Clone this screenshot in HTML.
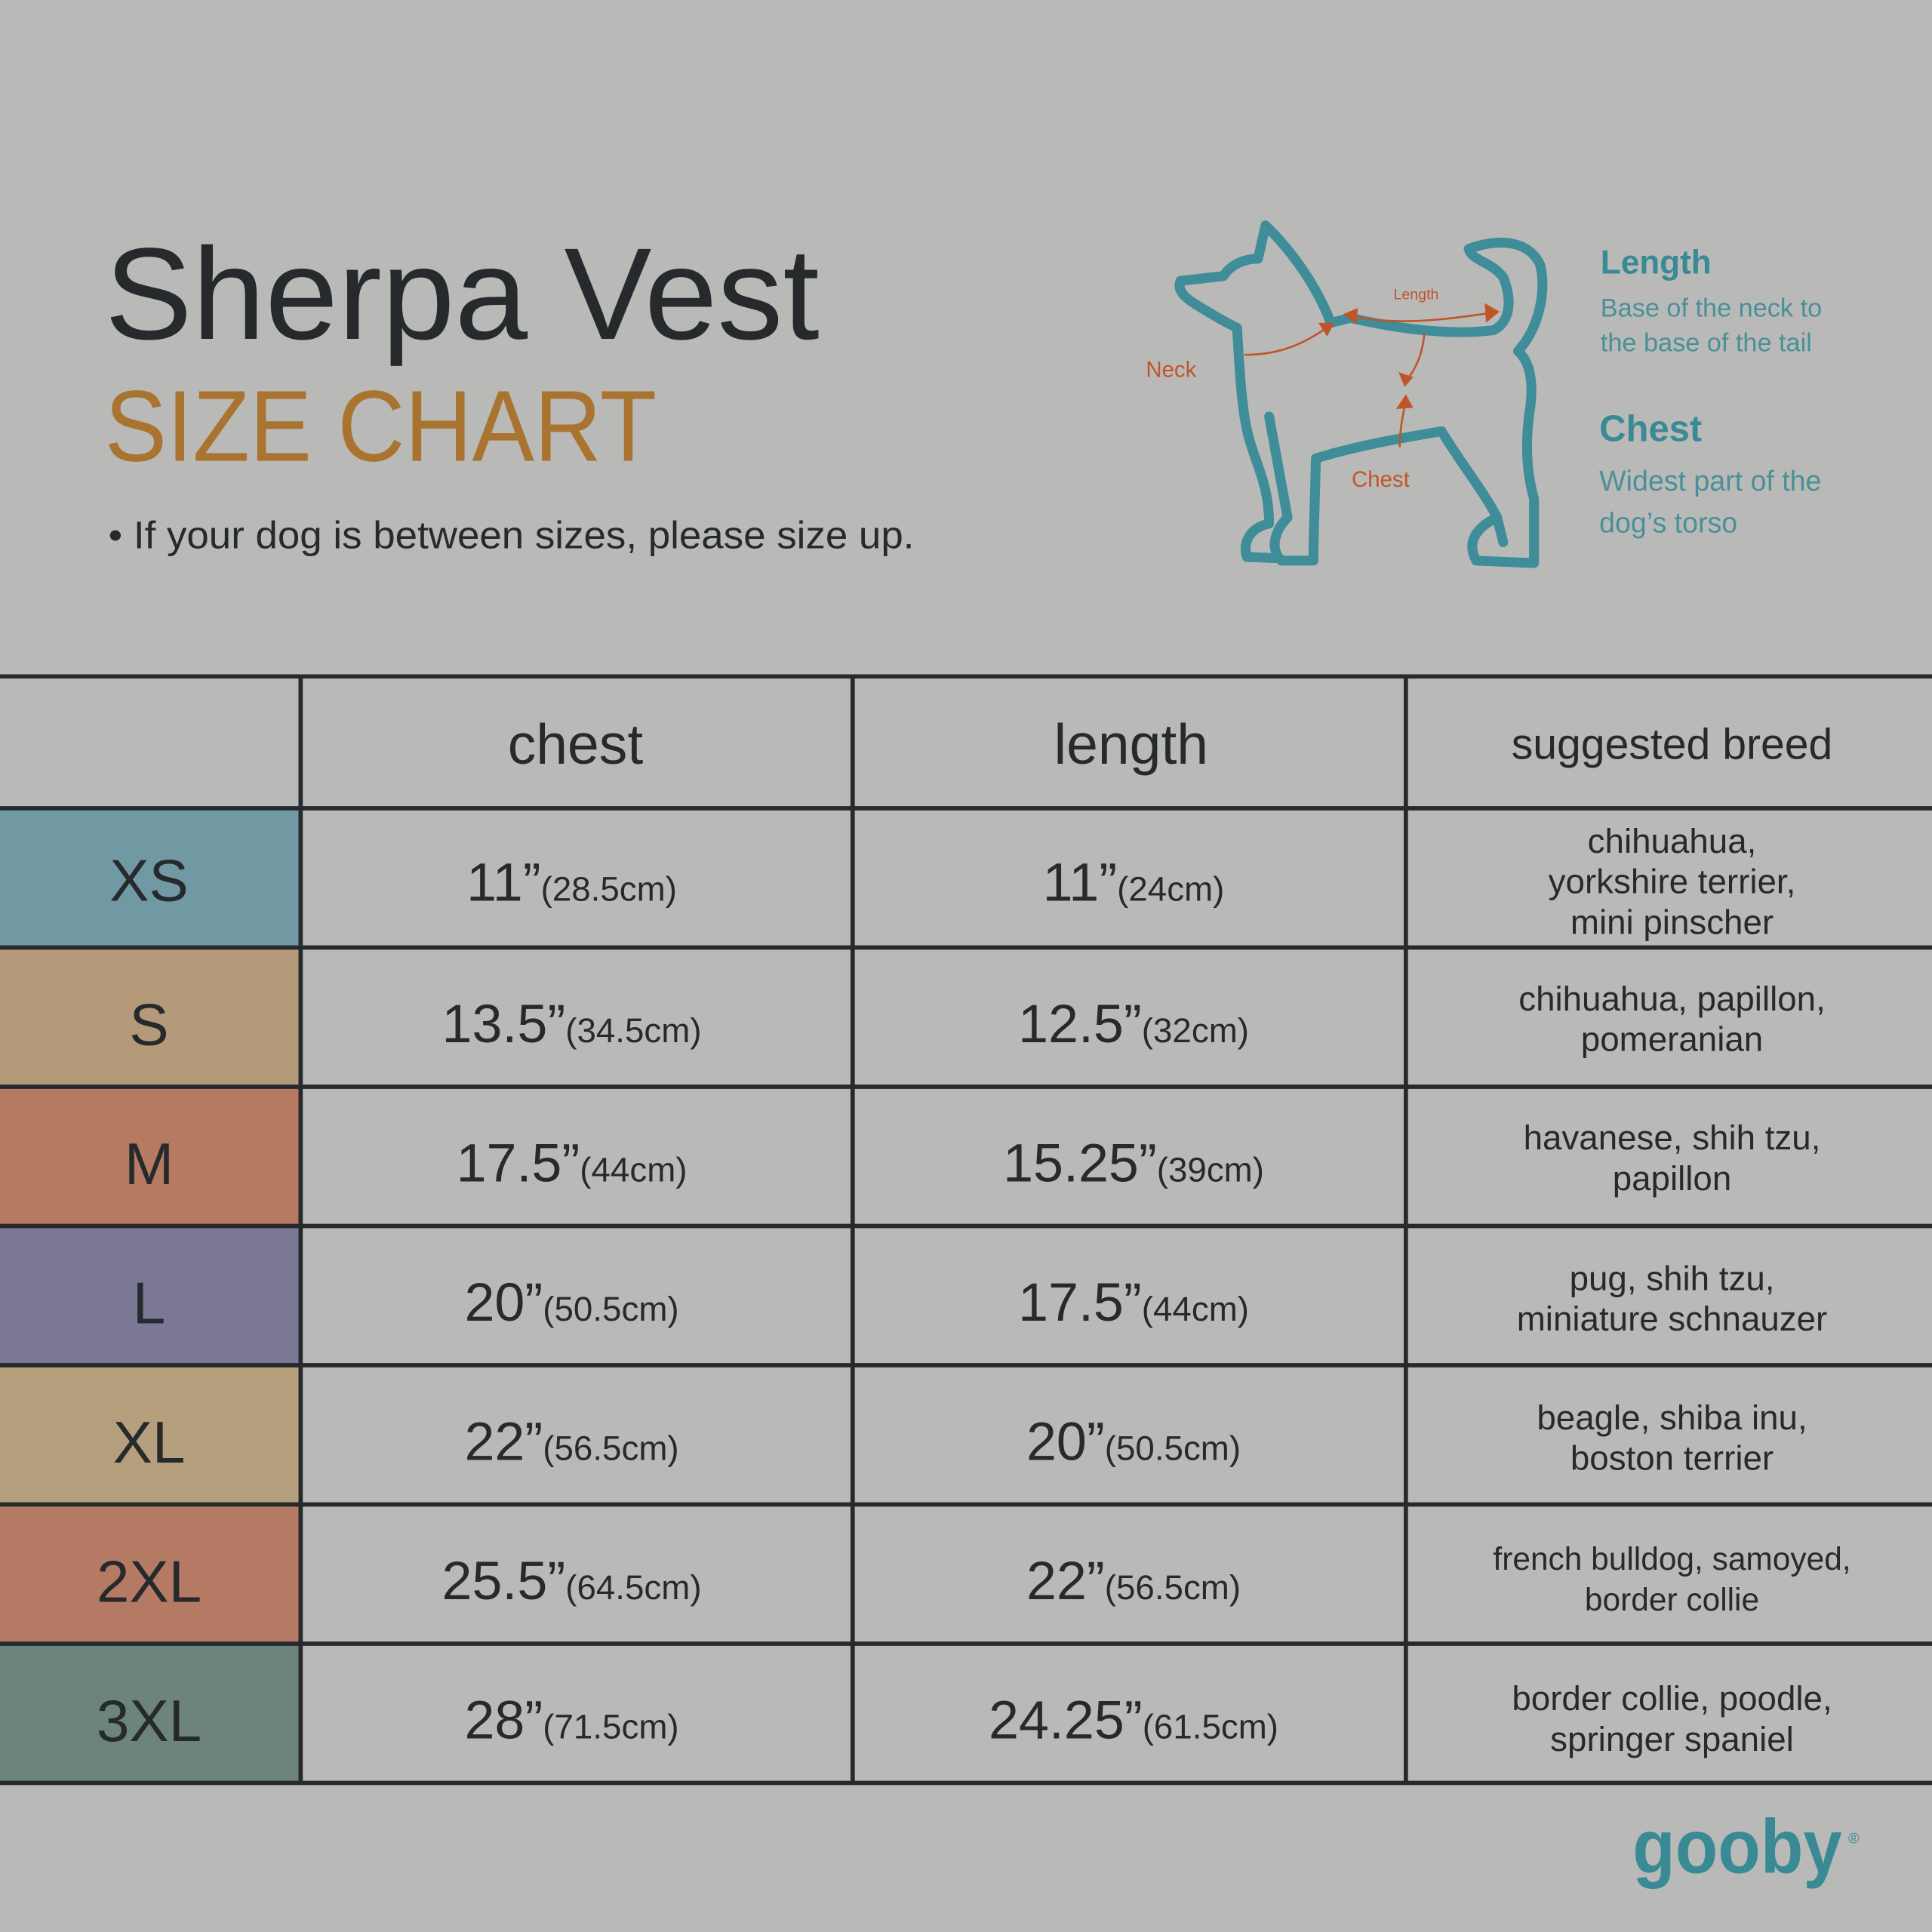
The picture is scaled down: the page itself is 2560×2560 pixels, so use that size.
<!DOCTYPE html>
<html><head><meta charset="utf-8"><style>
html,body{margin:0;padding:0;background:#b9bab8;}
svg{display:block;}
text{font-family:"Liberation Sans",sans-serif;}
</style></head><body>
<svg width="2560" height="2560" viewBox="0 0 1568 1568" xmlns="http://www.w3.org/2000/svg">
<rect width="1568" height="1568" fill="#b9bab8"/>
<text x="85" y="275" font-size="106" fill="#262a2c" textLength="580" lengthAdjust="spacingAndGlyphs">Sherpa Vest</text>
<text x="85" y="374" font-size="82" fill="#a87430" textLength="448" lengthAdjust="spacingAndGlyphs">SIZE CHART</text>
<text x="88" y="445" font-size="31" fill="#262a2c" textLength="654" lengthAdjust="spacingAndGlyphs">• If your dog is between sizes, please size up.</text>

<g fill="none" stroke="#3e8d99" stroke-width="8" stroke-linejoin="round" stroke-linecap="round">
<path d="M1080,262 C1070,235 1050,205 1027,183 L1021,210 C1008,210 998,216 993,224 L958,228 C955,236 962,242 972,248 C985,256 995,262 1004,266 C1006,300 1008,340 1015,360 C1020,378 1030,395 1030,425 C1015,428 1008,440 1012,452 L1036,453"/>
<path d="M1030,338 L1045,420 C1035,430 1030,445 1040,455 L1066,455 L1066,445"/>
<path d="M1066,445 L1068,372 C1100,362 1140,355 1170,350 C1185,375 1205,400 1215,420 C1198,428 1190,440 1198,455 L1245,457 L1245,405 C1238,380 1238,355 1242,330 C1245,305 1240,292 1232,285 C1250,265 1255,235 1250,215 C1242,197 1220,192 1192,202 C1195,212 1210,212 1220,225 C1228,245 1225,262 1212,268 C1180,272 1140,268 1096,258 L1080,262"/>
<path d="M1220,440 L1215,420"/>
</g>
<g stroke="#c0552a" stroke-width="1.6" fill="none">
<path d="M1010,288 C1040,288 1060,278 1078,265"/>
<path d="M1098,257 C1140,265 1180,258 1210,254"/>
<path d="M1156,270 C1155,285 1150,298 1142,308"/>
<path d="M1136,363 C1136,350 1138,340 1140,330"/>
</g>
<g fill="#c0552a">
<polygon points="1083,262 1070,262 1077,273"/>
<polygon points="1090,255 1102,250 1101,263"/>
<polygon points="1217,253 1205,246 1206,262"/>
<polygon points="1140,314 1135,302 1147,306"/>
<polygon points="1141,320 1133,332 1147,331"/>
</g>
<text x="930" y="306" font-size="18" fill="#c0552a">Neck</text>
<text x="1131" y="243" font-size="12" fill="#c0552a">Length</text>
<text x="1097" y="395" font-size="18" fill="#c0552a">Chest</text>

<text x="1299" y="222" font-size="27" font-weight="bold" fill="#3a8a96">Length</text>
<text x="1299" y="257" font-size="21" fill="#4a8f99">Base of the neck to</text>
<text x="1299" y="285" font-size="21" fill="#4a8f99">the base of the tail</text>
<text x="1298" y="358" font-size="30" font-weight="bold" fill="#3a8a96">Chest</text>
<text x="1298" y="398" font-size="23" fill="#4a8f99">Widest part of the</text>
<text x="1298" y="432" font-size="23" fill="#4a8f99">dog’s torso</text>

<rect x="0" y="656" width="244" height="113" fill="#7199a3"/>
<rect x="0" y="769" width="244" height="113" fill="#b59a79"/>
<rect x="0" y="882" width="244" height="113" fill="#b67a63"/>
<rect x="0" y="995" width="244" height="113" fill="#7a7895"/>
<rect x="0" y="1108" width="244" height="113" fill="#b59f7c"/>
<rect x="0" y="1221" width="244" height="113" fill="#b57a63"/>
<rect x="0" y="1334" width="244" height="113" fill="#6c8479"/>
<g stroke="#262a2c" stroke-width="3.5">
<line x1="0" y1="549" x2="1568" y2="549"/>
<line x1="0" y1="656" x2="1568" y2="656"/>
<line x1="0" y1="769" x2="1568" y2="769"/>
<line x1="0" y1="882" x2="1568" y2="882"/>
<line x1="0" y1="995" x2="1568" y2="995"/>
<line x1="0" y1="1108" x2="1568" y2="1108"/>
<line x1="0" y1="1221" x2="1568" y2="1221"/>
<line x1="0" y1="1334" x2="1568" y2="1334"/>
<line x1="0" y1="1447" x2="1568" y2="1447"/>
<line x1="244" y1="549" x2="244" y2="1447"/>
<line x1="692" y1="549" x2="692" y2="1447"/>
<line x1="1141" y1="549" x2="1141" y2="1447"/>
</g>
<g fill="#262a2c" text-anchor="middle">
<text x="467" y="620" font-size="46">chest</text>
<text x="918" y="620" font-size="46">length</text>
<text x="1357" y="616" font-size="35">suggested breed</text>

<g font-size="48">
<text x="121" y="731">XS</text>
<text x="121" y="848">S</text>
<text x="121" y="961">M</text>
<text x="121" y="1074">L</text>
<text x="121" y="1187">XL</text>
<text x="121" y="1300">2XL</text>
<text x="121" y="1413">3XL</text>
</g>
<g font-size="44">
<text x="464" y="731">11”<tspan font-size="28">(28.5cm)</tspan></text>
<text x="464" y="846">13.5”<tspan font-size="28">(34.5cm)</tspan></text>
<text x="464" y="959">17.5”<tspan font-size="28">(44cm)</tspan></text>
<text x="464" y="1072">20”<tspan font-size="28">(50.5cm)</tspan></text>
<text x="464" y="1185">22”<tspan font-size="28">(56.5cm)</tspan></text>
<text x="464" y="1298">25.5”<tspan font-size="28">(64.5cm)</tspan></text>
<text x="464" y="1411">28”<tspan font-size="28">(71.5cm)</tspan></text>
<text x="920" y="731">11”<tspan font-size="28">(24cm)</tspan></text>
<text x="920" y="846">12.5”<tspan font-size="28">(32cm)</tspan></text>
<text x="920" y="959">15.25”<tspan font-size="28">(39cm)</tspan></text>
<text x="920" y="1072">17.5”<tspan font-size="28">(44cm)</tspan></text>
<text x="920" y="1185">20”<tspan font-size="28">(50.5cm)</tspan></text>
<text x="920" y="1298">22”<tspan font-size="28">(56.5cm)</tspan></text>
<text x="920" y="1411">24.25”<tspan font-size="28">(61.5cm)</tspan></text>
</g>
<g font-size="28">
<text x="1357" y="692">chihuahua,</text>
<text x="1357" y="725">yorkshire terrier,</text>
<text x="1357" y="758">mini pinscher</text>
<text x="1357" y="820">chihuahua, papillon,</text>
<text x="1357" y="853">pomeranian</text>
<text x="1357" y="933">havanese, shih tzu,</text>
<text x="1357" y="966">papillon</text>
<text x="1357" y="1047">pug, shih tzu,</text>
<text x="1357" y="1080">miniature schnauzer</text>
<text x="1357" y="1160">beagle, shiba inu,</text>
<text x="1357" y="1193">boston terrier</text>
<text x="1357" y="1274" font-size="26">french bulldog, samoyed,</text>
<text x="1357" y="1307" font-size="26">border collie</text>
<text x="1357" y="1388">border collie, poodle,</text>
<text x="1357" y="1421">springer spaniel</text>
</g>
</g>
<text x="1325" y="1520" font-size="62" font-weight="bold" fill="#3a8a96" textLength="170" lengthAdjust="spacingAndGlyphs">gooby</text>
<text x="1500" y="1496" font-size="12" fill="#3a8a96">®</text>
</svg>
</body></html>
